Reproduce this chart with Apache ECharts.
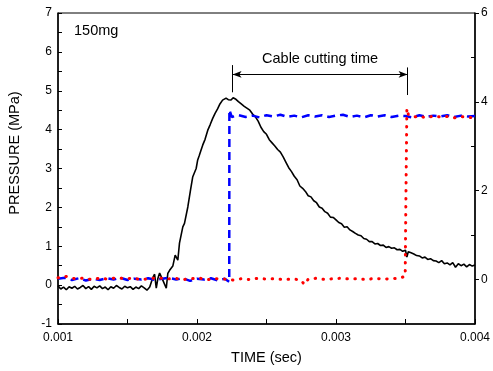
<!DOCTYPE html>
<html>
<head>
<meta charset="utf-8">
<script src="https://cdn.jsdelivr.net/npm/echarts@6/dist/echarts.min.js"></script>
<style>
	html, body { margin: 0; padding: 0; background: #fff; }
	#chart { width: 493px; height: 371px; }
</style>
</head>
<body>
<div id="chart"></div>
<script>
const FONT = '"Liberation Sans", Arial, sans-serif'

// time (sec), pressure (MPa) -- left axis
const pressure = [
	[0.00100, -0.02], [0.00102, -0.10], [0.00104, -0.05], [0.00106, -0.12], [0.00108, -0.04],
	[0.00110, -0.08], [0.00112, -0.03], [0.00114, -0.10], [0.00116, -0.06], [0.00118, -0.01],
	[0.00120, -0.09], [0.00122, -0.04], [0.00124, -0.11], [0.00126, -0.03], [0.00128, -0.07],
	[0.00130, -0.02], [0.00132, -0.09], [0.00134, -0.05], [0.00136, -0.12], [0.00138, -0.04],
	[0.00140, -0.08], [0.00142, -0.01], [0.00144, -0.06], [0.00146, -0.10], [0.00148, -0.03],
	[0.00150, -0.07], [0.00152, -0.04], [0.00154, -0.11], [0.00156, -0.05], [0.00158, -0.09],
	[0.00160, -0.02], [0.00162, -0.07], [0.00164, -0.13], [0.00166, -0.05], [0.001683, 0.20],
	[0.001695, 0.28], [0.001707, -0.08], [0.001719, 0.18], [0.001731, 0.31], [0.001754, 0.13],
	[0.001779, -0.08], [0.00179, 0.30], [0.001803, 0.38], [0.001826, 0.49], [0.001843, 0.77],
	[0.001862, 0.64], [0.001874, 1.08], [0.001898, 1.50], [0.00191, 1.59], [0.001934, 2.01],
	[0.001953, 2.44], [0.001969, 2.78], [0.001994, 3.00], [0.002005, 3.22], [0.002017, 3.34],
	[0.00203, 3.48], [0.002041, 3.60], [0.002058, 3.75], [0.002077, 3.98], [0.002095, 4.13],
	[0.002113, 4.29], [0.00213, 4.42], [0.002149, 4.54], [0.002165, 4.66], [0.002184, 4.76],
	[0.002196, 4.74], [0.002209, 4.81], [0.002225, 4.77], [0.002245, 4.76], [0.00226, 4.82],
	[0.00228, 4.78], [0.002298, 4.72], [0.002316, 4.67], [0.00234, 4.60], [0.002364, 4.54],
	[0.00238, 4.50], [0.00240, 4.40], [0.00242, 4.33], [0.00244, 4.22], [0.00246, 4.06],
	[0.00248, 3.95], [0.00250, 3.88], [0.00252, 3.74], [0.00254, 3.66], [0.00256, 3.58],
	[0.00258, 3.49], [0.00260, 3.42], [0.00262, 3.30], [0.00264, 3.16], [0.00266, 3.02],
	[0.00268, 2.92], [0.00270, 2.80], [0.00272, 2.71], [0.00274, 2.55], [0.00276, 2.49],
	[0.00278, 2.41], [0.00280, 2.30], [0.00282, 2.27], [0.00284, 2.17], [0.00286, 2.12],
	[0.00288, 2.01], [0.00290, 1.98], [0.00292, 1.89], [0.00294, 1.85], [0.00296, 1.75],
	[0.00298, 1.74], [0.00300, 1.68], [0.00302, 1.61], [0.00304, 1.58], [0.00306, 1.49],
	[0.00308, 1.50], [0.00310, 1.42], [0.00312, 1.38], [0.00314, 1.33], [0.00316, 1.29],
	[0.00318, 1.27], [0.00320, 1.20], [0.00322, 1.18], [0.00324, 1.12], [0.00326, 1.12],
	[0.00328, 1.06], [0.00330, 1.07], [0.00332, 1.02], [0.00334, 1.03], [0.00336, 0.97],
	[0.00338, 0.99], [0.00340, 0.95], [0.00342, 0.96], [0.00344, 0.91], [0.00346, 0.92],
	[0.00348, 0.87], [0.00350, 0.90], [0.00351, 0.72], [0.00352, 0.86], [0.00354, 0.83],
	[0.00356, 0.80], [0.00358, 0.76], [0.00360, 0.75], [0.00362, 0.70], [0.00364, 0.72],
	[0.00366, 0.66], [0.00368, 0.68], [0.00370, 0.63], [0.00372, 0.62], [0.00374, 0.58],
	[0.00376, 0.63], [0.00378, 0.55], [0.00380, 0.57], [0.00382, 0.52], [0.00384, 0.58],
	[0.00386, 0.46], [0.00388, 0.55], [0.00390, 0.50], [0.00392, 0.54], [0.00394, 0.47],
	[0.00396, 0.53], [0.00398, 0.49], [0.00400, 0.52],
]

// blue dashed signal -- right axis
const signalBlue = [
	[0.00100, 0.02], [0.00105, 0.04], [0.00110, -0.01], [0.00115, 0.03], [0.00120, -0.02],
	[0.00125, 0.02], [0.00130, -0.01], [0.00135, 0.03], [0.00140, 0.00], [0.00145, 0.04],
	[0.00150, -0.01], [0.00155, 0.02], [0.00160, 0.00], [0.00165, 0.03], [0.00170, -0.01],
	[0.00175, 0.02], [0.00180, 0.04], [0.00185, 0.00], [0.00190, 0.03], [0.00195, -0.03],
	[0.00200, 0.02], [0.00205, 0.00], [0.00210, 0.03], [0.00215, -0.02], [0.00220, 0.02],
	[0.002232, -0.05], [0.002233, 3.82], [0.00225, 3.66], [0.00230, 3.70], [0.00235, 3.66],
	[0.00240, 3.69], [0.00245, 3.65], [0.00250, 3.70], [0.00255, 3.67], [0.00260, 3.71],
	[0.00265, 3.66], [0.00270, 3.69], [0.00275, 3.65], [0.00280, 3.70], [0.00285, 3.67],
	[0.00290, 3.70], [0.00295, 3.66], [0.00300, 3.69], [0.00305, 3.71], [0.00310, 3.66],
	[0.00315, 3.69], [0.00320, 3.65], [0.00325, 3.70], [0.00330, 3.67], [0.00335, 3.70],
	[0.00340, 3.66], [0.00345, 3.69], [0.00350, 3.68], [0.00355, 3.65], [0.00360, 3.70],
	[0.00365, 3.66], [0.00370, 3.69], [0.00375, 3.67], [0.00380, 3.70], [0.00385, 3.66],
	[0.00390, 3.69], [0.00395, 3.67], [0.00400, 3.68],
]

// red dotted signal -- right axis
const signalRed = [
	[0.00100, 0.04], [0.00106, 0.07], [0.00112, 0.02], [0.00118, 0.03], [0.00124, 0.00],
	[0.00130, 0.03], [0.00136, 0.01], [0.00142, 0.04], [0.00148, 0.02], [0.00154, 0.03],
	[0.00160, 0.00], [0.00166, 0.02], [0.00172, 0.04], [0.00178, 0.01], [0.00184, 0.03],
	[0.00190, 0.00], [0.00196, 0.02], [0.00202, 0.03], [0.00208, 0.00], [0.00214, 0.02],
	[0.00220, 0.01], [0.00226, -0.01], [0.00232, 0.02], [0.00238, 0.00], [0.00244, 0.03],
	[0.00250, 0.01], [0.00256, 0.02], [0.00262, 0.00], [0.00268, 0.01], [0.00274, 0.00],
	[0.002775, -0.11], [0.00280, 0.01], [0.00286, 0.03], [0.00292, 0.00], [0.00298, 0.02],
	[0.00304, 0.03], [0.00310, 0.01], [0.00316, 0.02], [0.00322, 0.00], [0.00328, 0.03],
	[0.00334, 0.01], [0.00340, 0.02], [0.00346, 0.03], [0.003498, 0.08], [0.003503, 1.80],
	[0.00351, 3.85], [0.00352, 3.72], [0.00356, 3.66], [0.00360, 3.68], [0.00365, 3.64],
	[0.00370, 3.68], [0.00375, 3.66], [0.00380, 3.67], [0.00385, 3.64], [0.00390, 3.67],
	[0.00395, 3.65], [0.00400, 3.65],
]

// cable cutting annotation (time, pressure)
const cutStart = 0.002256
const cutEnd = 0.003515
const cutArrowY = 5.42
const cutStartBar = [5.66, 4.96]
const cutEndBar = [5.60, 4.89]

const rightMajor = [0, 2, 4, 6]
const rightMinor = [1, 3, 5]

let chart = echarts.init(document.getElementById('chart'), null, { renderer: 'canvas' })

let axisFont = { fontFamily: FONT, fontSize: 12, color: '#000' }

chart.setOption({
	animation: false,
	grid: {
		left: 58, right: 16, top: 13, bottom: 47,
		show: true, borderColor: '#000', borderWidth: 1,
	},
	xAxis: {
		type: 'value',
		min: 0.001, max: 0.004, interval: 0.001,
		name: 'TIME (sec)',
		nameLocation: 'middle',
		nameGap: 26,
		nameTextStyle: { fontFamily: FONT, fontSize: 14.5, color: '#000' },
		axisLine: { onZero: false, lineStyle: { color: '#000', width: 1.5 } },
		axisTick: { inside: true, length: 5, lineStyle: { color: '#000' } },
		minorTick: { show: true, splitNumber: 2, length: 5, lineStyle: { color: '#000' } },
		splitLine: { show: false },
		axisLabel: Object.assign({ margin: 8, formatter: v => v.toFixed(3) }, axisFont),
	},
	yAxis: [{
		type: 'value',
		min: -1, max: 7, interval: 1,
		axisLine: { show: true, lineStyle: { color: '#000', width: 1.5 } },
		axisTick: { inside: true, length: 4, lineStyle: { color: '#000' } },
		minorTick: { show: true, splitNumber: 2, length: 4, lineStyle: { color: '#000' } },
		splitLine: { show: false },
		axisLabel: Object.assign({ margin: 6 }, axisFont),
	}, {
		type: 'value',
		position: 'right',
		min: -1, max: 6, interval: 1,
		axisLine: { show: true, lineStyle: { color: '#000', width: 1.5 } },
		axisTick: { inside: false, length: 4, customValues: rightMajor, lineStyle: { color: '#000' } },
		splitLine: { show: false },
		axisLabel: Object.assign({ margin: 6, customValues: rightMajor }, axisFont),
	}, {
		type: 'value',
		position: 'right',
		min: -1, max: 6, interval: 1,
		axisLine: { show: false },
		axisTick: { inside: true, length: 4, customValues: rightMinor, lineStyle: { color: '#000' } },
		splitLine: { show: false },
		axisLabel: { show: false },
	}],
	graphic: [{
		type: 'text',
		left: 74, top: 23,
		style: { text: '150mg', fontFamily: FONT, fontSize: 14.5, fill: '#000' },
	}, {
		type: 'text',
		x: 15, y: 153,
		rotation: Math.PI / 2,
		style: {
			text: 'PRESSURE (MPa)', fontFamily: FONT, fontSize: 14.5, fill: '#000',
			align: 'center', verticalAlign: 'middle',
		},
	}],
	series: [{
		name: 'Pressure',
		type: 'line',
		yAxisIndex: 0,
		data: pressure,
		showSymbol: false,
		lineStyle: { color: '#000', width: 1.6 },
		z: 2,
		markLine: {
			silent: true,
			symbol: 'none',
			lineStyle: { color: '#000', width: 1, type: 'solid' },
			label: { show: false },
			data: [
				[{
					coord: [cutStart, cutArrowY], symbol: 'arrow', symbolSize: [5, 9],
					label: {
						show: true, position: 'middle', distance: 8,
						formatter: 'Cable cutting time',
						fontFamily: FONT, fontSize: 14.5, color: '#000',
					},
				}, { coord: [cutEnd, cutArrowY], symbol: 'arrow', symbolSize: [5, 9] }],
				[{ coord: [cutStart, cutStartBar[0]] }, { coord: [cutStart, cutStartBar[1]] }],
				[{ coord: [cutEnd, cutEndBar[0]] }, { coord: [cutEnd, cutEndBar[1]] }],
			],
		},
	}, {
		name: 'Blue',
		type: 'line',
		yAxisIndex: 1,
		data: signalBlue,
		showSymbol: false,
		lineStyle: { color: '#0000ff', width: 2.5, type: [8, 5] },
		z: 3,
	}, {
		name: 'Red',
		type: 'line',
		yAxisIndex: 1,
		data: signalRed,
		showSymbol: false,
		lineStyle: { color: '#ff0000', width: 3, type: [0.5, 7.5], cap: 'round' },
		z: 4,
	}],
})
</script>
</body>
</html>
